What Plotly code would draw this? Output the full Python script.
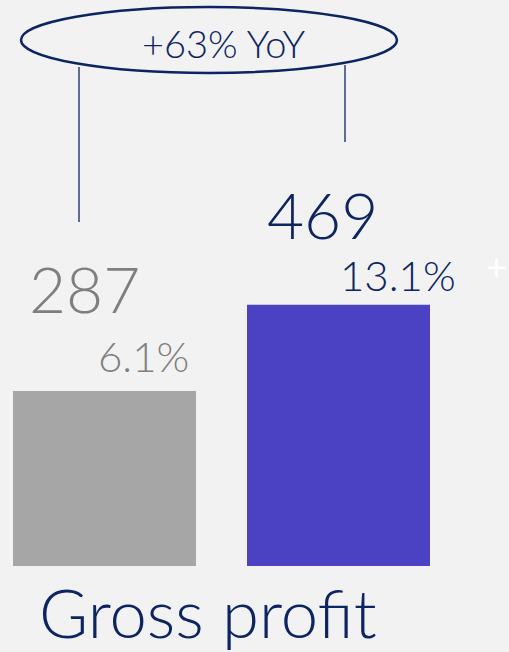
import plotly.graph_objects as go

categories = ["Prior year", "Current year"]
gross_profit = [287, 469]
margin_labels = ["6.1%", "13.1%"]
yoy_label = "+63% YoY"
title_text = "Gross profit"

bar_colors = ["#a6a6a6", "#4b42c3"]
value_colors = ["#7f7f7f", "#0c2461"]
NAVY = "#0c2461"
BG = "#f2f2f2"
FONT = "Lato"

W, H = 509, 652
B = 86
PH = H - B
Y_FLOOR = -83
Y_MAX = 1113

def px(x):
    return x / W

def py(y):
    return (PH - y) / PH

fig = go.Figure()
fig.add_trace(go.Bar(
    x=[0, 1], y=[v - Y_FLOOR for v in gross_profit], base=[Y_FLOOR] * 2,
    marker=dict(color=bar_colors, line=dict(width=0)),
    width=0.782, hoverinfo="skip",
))

# value labels
val_shift = [(-20, 102), (-16, 90)]
pct_shift = [(39, 35), (59, 30)]
annotations = []
for i, v in enumerate(gross_profit):
    annotations.append(dict(
        x=i, y=v, xref="x", yref="y", text=str(v), showarrow=False,
        xshift=val_shift[i][0], yshift=val_shift[i][1], yanchor="middle",
        font=dict(family=FONT, size=64, color=value_colors[i], weight=300),
    ))
    annotations.append(dict(
        x=i, y=v, xref="x", yref="y", text=margin_labels[i], showarrow=False,
        xshift=pct_shift[i][0], yshift=pct_shift[i][1], yanchor="middle",
        font=dict(family=FONT, size=42, color=value_colors[i], weight=300),
    ))

annotations.append(dict(
    x=px(223), y=py(43), xref="paper", yref="paper", text=yoy_label,
    showarrow=False, xanchor="center", yanchor="middle",
    font=dict(family=FONT, size=38, color=NAVY, weight=300),
))
annotations.append(dict(
    x=px(208), y=py(612), xref="paper", yref="paper", text=title_text,
    showarrow=False, xanchor="center", yanchor="middle",
    font=dict(family=FONT, size=67, color=NAVY, weight=300),
))
annotations.append(dict(
    x=1.0, y=py(266), xref="paper", yref="paper", text="+",
    showarrow=False, xanchor="right", yanchor="middle",
    font=dict(family=FONT, size=36, color="#ffffff", weight=400),
))

shapes = [
    dict(type="circle", xref="paper", yref="paper",
         x0=px(21), x1=px(397), y0=py(73), y1=py(7),
         line=dict(color=NAVY, width=2.5)),
    dict(type="line", xref="paper", yref="paper",
         x0=px(79), x1=px(79), y0=py(67), y1=py(222),
         line=dict(color=NAVY, width=1.3)),
    dict(type="line", xref="paper", yref="paper",
         x0=px(345), x1=px(345), y0=py(65), y1=py(142),
         line=dict(color=NAVY, width=1.3)),
]

fig.update_layout(
    width=W, height=H,
    margin=dict(l=0, r=0, t=0, b=B, pad=0),
    paper_bgcolor=BG, plot_bgcolor=BG,
    showlegend=False,
    xaxis=dict(range=[-0.4466, 1.7286], visible=False, fixedrange=True),
    yaxis=dict(range=[Y_FLOOR, Y_MAX], visible=False, fixedrange=True),
    annotations=annotations, shapes=shapes,
)

fig.write_html(
    "out.html",
    config={"displayModeBar": False},
    post_script="document.body.style.margin='0';document.body.style.overflow='hidden';",
)
